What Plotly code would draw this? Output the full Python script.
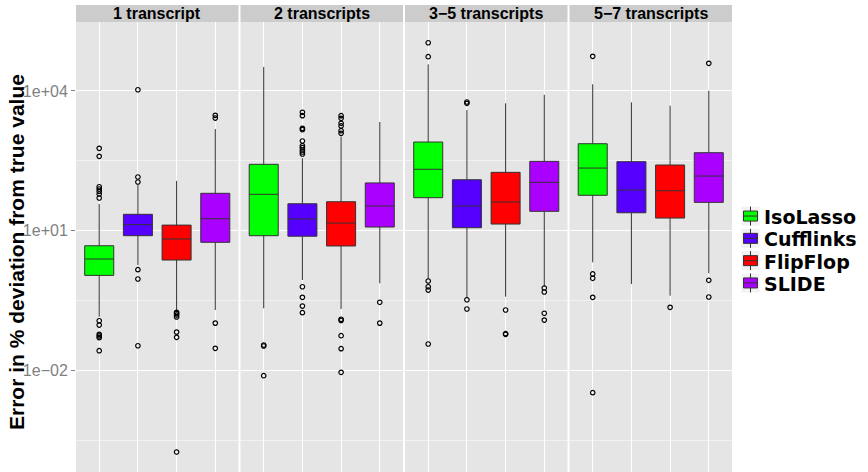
import plotly.graph_objects as go

# ---- data -------------------------------------------------------------
methods = ["IsoLasso", "Cufflinks", "FlipFlop", "SLIDE"]
colors = ["#00FF00", "#5500FF", "#FF0000", "#AA00FF"]
facets = ["1 transcript", "2 transcripts", "3\u22125 transcripts", "5\u22127 transcripts"]

# box statistics, one row per facet, one column per method
lower_whisker = [
    [0.143, 1.84, 0.183, 0.199],
    [0.216, 0.875, 0.209, 0.743],
    [0.91, 0.354, 0.384, 0.628],
    [2.10, 0.718, 0.403, 1.22],
]
q1 = [
    [1.10, 7.82, 2.35, 5.64],
    [7.82, 7.62, 4.70, 12.0],
    [51.1, 11.6, 13.9, 26.1],
    [57.5, 24.3, 18.7, 40.6],
]
median = [
    [2.47, 13.5, 6.64, 18.1],
    [60.4, 17.8, 14.6, 33.9],
    [208, 33.9, 41.3, 109],
    [221, 74.6, 72.1, 149],
]
q3 = [
    [4.76, 22.5, 13.2, 63.5],
    [266, 37.9, 41.9, 106],
    [800, 124, 179, 308],
    [736, 303, 257, 472],
]
upper_whisker = [
    [37.4, 95.7, 117, 1520],
    [32600, 358, 1040, 2150],
    [37200, 3890, 5420, 8280],
    [13900, 5690, 4810, 10100],
]
outliers = [
    [
        [586, 395, 87.9, 78.5, 70.0, 61.4, 50.4, 0.117, 0.0946, 0.0598, 0.0552, 0.0506, 0.0266],
        [10600, 142, 111, 1.46, 0.92, 0.034],
        [0.177, 0.167, 0.155, 0.141, 0.0667, 0.0515, 0.000178],
        [2990, 2620, 0.104, 0.0299],
    ],
    [
        [0.0352, 0.0336, 0.00773],
        [3480, 2940, 1570, 1470, 841, 667, 604, 540, 489, 443, 0.628, 0.372, 0.242, 0.174],
        [2940, 2580, 2020, 1770, 1400, 1230, 0.126, 0.119, 0.0558, 0.0294, 0.00914],
        [0.291, 0.104],
    ],
    [
        [108000, 54200, 0.834, 0.628, 0.533, 0.0371],
        [5780, 5420, 0.330, 0.209],
        [0.199, 0.0617, 0.0598],
        [0.589, 0.484, 0.169, 0.121],
    ],
    [
        [55200, 1.18, 0.953, 0.372, 0.00334],
        [],
        [0.227],
        [39100, 0.863, 0.378],
    ],
]

y_tickvals = [1e-2, 1e1, 1e4]
y_ticktext = ["1e\u221202", "1e+01", "1e+04"]

# ---- geometry ---------------------------------------------------------
W, H = 868, 472
ML, MR, MT, MB = 76, 136, 22, 0
PW, PH = W - ML - MR, H - MT - MB
panel_px = [(0, 162.5), (164.5, 327), (329, 491.5), (493.5, 656)]
domains = [[a / PW, b / PW] for a, b in panel_px]

FONT = "Liberation Sans, Arial, Helvetica, sans-serif"
LEGEND_FONT = "DejaVu Sans, Liberation Sans, sans-serif"


def px_x(px):
    return (px - ML) / PW


def px_y(py):
    return (H - MB - py) / PH


fig = go.Figure()

for f in range(len(facets)):
    xa = "x" if f == 0 else f"x{f + 1}"
    for m in range(len(methods)):
        fig.add_trace(go.Box(
            x=[m + 1],
            q1=[q1[f][m]], median=[median[f][m]], q3=[q3[f][m]],
            lowerfence=[lower_whisker[f][m]], upperfence=[upper_whisker[f][m]],
            name=methods[m], fillcolor=colors[m],
            line=dict(color="#333333", width=1),
            width=0.75, whiskerwidth=0, boxpoints=False,
            xaxis=xa, yaxis="y", showlegend=False, hoverinfo="skip",
        ))
        pts = outliers[f][m]
        if pts:
            fig.add_trace(go.Scatter(
                x=[m + 1] * len(pts), y=pts, mode="markers",
                marker=dict(symbol="circle-open", size=4.5, color="black",
                            line=dict(width=1.2)),
                xaxis=xa, yaxis="y", showlegend=False, hoverinfo="skip",
            ))

layout = dict(
    width=W, height=H,
    margin=dict(l=ML, r=MR, t=MT, b=MB, pad=0),
    paper_bgcolor="white", plot_bgcolor="#E5E5E5",
    showlegend=False,
    font=dict(family=FONT),
    yaxis=dict(
        type="log", range=[-4.178, 5.479], anchor="x",
        tickmode="array", tickvals=y_tickvals, ticktext=y_ticktext,
        tickfont=dict(size=16, color="#7F7F7F", family=FONT),
        ticks="outside", ticklen=4, tickcolor="#7F7F7F", tickwidth=1,
        showgrid=True, gridcolor="white", gridwidth=1.2,
        minor=dict(tickmode="array", tickvals=[10 ** -3.5, 10 ** -0.5, 10 ** 2.5],
                   showgrid=True, gridcolor="#F2F2F2", gridwidth=0.6, ticks=""),
        zeroline=False, showline=False, fixedrange=True,
    ),
)
for f in range(len(facets)):
    key = "xaxis" if f == 0 else f"xaxis{f + 1}"
    layout[key] = dict(
        domain=domains[f], anchor="y", range=[0.4, 4.6],
        tickmode="array", tickvals=[1, 2, 3, 4], showticklabels=False, ticks="",
        showgrid=True, gridcolor="white", gridwidth=1.2,
        zeroline=False, showline=False, fixedrange=True,
    )
fig.update_layout(**layout)

shapes = []
annotations = []

# facet strips
strip_top = 5
for f, name in enumerate(facets):
    d0, d1 = domains[f]
    shapes.append(dict(type="rect", xref="paper", yref="paper",
                       x0=d0, x1=d1, y0=1, y1=px_y(strip_top),
                       fillcolor="#CCCCCC", line=dict(width=0), layer="below"))
    annotations.append(dict(text=f"<b>{name}</b>", xref="paper", yref="paper",
                            x=(d0 + d1) / 2, y=px_y((strip_top + MT) / 2),
                            xanchor="center", yanchor="middle", showarrow=False,
                            font=dict(size=16, color="black", family=FONT)))

# y-axis title
annotations.append(dict(text="<b>Error in % deviation from true value</b>",
                        xref="paper", yref="paper", x=px_x(16.5), y=px_y(252.5),
                        xanchor="center", yanchor="middle", textangle=-90,
                        showarrow=False, font=dict(size=21, color="black", family=FONT)))

# legend
key_x0, key_x1 = 741, 760
row_gap = 22.3
first_row = 249.5 - 1.5 * row_gap
for m, name in enumerate(methods):
    cy = first_row + row_gap * m
    shapes.append(dict(type="rect", xref="paper", yref="paper",
                       x0=px_x(key_x0), x1=px_x(key_x1),
                       y0=px_y(cy - 10), y1=px_y(cy + 10),
                       fillcolor="#F2F2F2", line=dict(color="white", width=1)))
    cx = (key_x0 + key_x1) / 2
    shapes.append(dict(type="line", xref="paper", yref="paper",
                       x0=px_x(cx), x1=px_x(cx), y0=px_y(cy - 9.5), y1=px_y(cy + 9.5),
                       line=dict(color="#333333", width=1)))
    shapes.append(dict(type="rect", xref="paper", yref="paper",
                       x0=px_x(key_x0 + 2.5), x1=px_x(key_x1 - 2.5),
                       y0=px_y(cy - 5), y1=px_y(cy + 5),
                       fillcolor=colors[m], line=dict(color="#333333", width=1)))
    shapes.append(dict(type="line", xref="paper", yref="paper",
                       x0=px_x(key_x0 + 2.5), x1=px_x(key_x1 - 2.5),
                       y0=px_y(cy), y1=px_y(cy),
                       line=dict(color="#333333", width=1)))
    annotations.append(dict(text=f"<b>{name}</b>", xref="paper", yref="paper",
                            x=px_x(763), y=px_y(cy + 1), xanchor="left", yanchor="middle",
                            showarrow=False, borderpad=0,
                            font=dict(size=19, color="black", family=LEGEND_FONT)))

fig.update_layout(shapes=shapes, annotations=annotations)

fig.write_html("out.html")
